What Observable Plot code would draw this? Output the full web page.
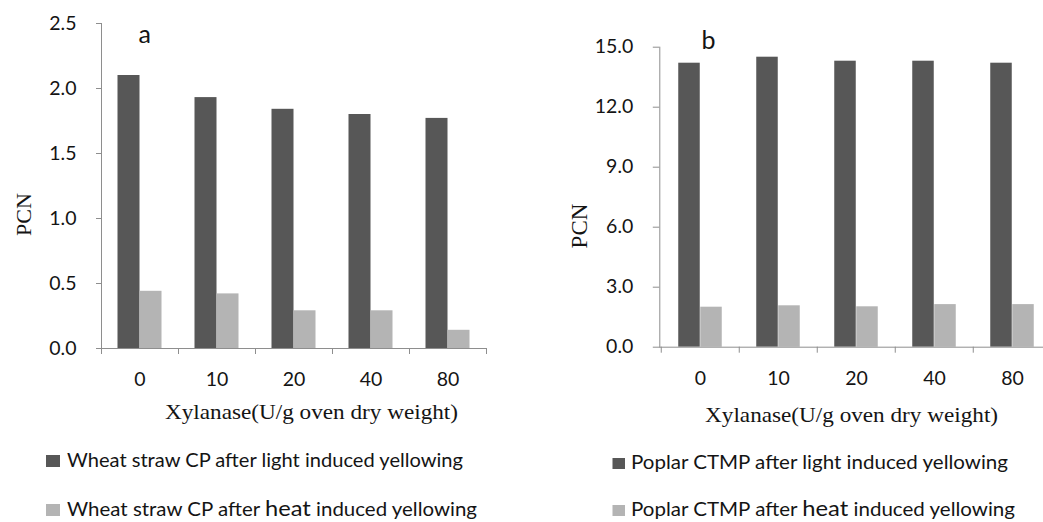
<!DOCTYPE html>
<html><head><meta charset="utf-8">
<script src="https://cdn.jsdelivr.net/npm/d3@7"></script>
<script src="https://cdn.jsdelivr.net/npm/@observablehq/plot@0.6"></script>
<style>
body{margin:0;background:#fff;}
#root{position:relative;width:1043px;height:522px;overflow:hidden;background:#fff;}
#root > svg{position:absolute;top:0;}
</style></head><body><div id="root"></div>
<script>
// ---- data ----
const doses = ["0", "10", "20", "40", "80"];
const wheatLight = [2.10, 1.93, 1.84, 1.80, 1.77];
const wheatHeat = [0.44, 0.42, 0.29, 0.29, 0.14];
const poplarLight = [14.2, 14.5, 14.3, 14.3, 14.2];
const poplarHeat = [2.0, 2.07, 2.02, 2.13, 2.13];
const wheatTicks = [0, 0.5, 1.0, 1.5, 2.0, 2.5];
const poplarTicks = [0, 3, 6, 9, 12, 15];
const xLabel = "Xylanase(U/g oven dry weight)";
const yLabel = "PCN";
const wheatLegend = [["Wheat straw CP after ", "light", " induced yellowing"], ["Wheat straw CP after ", "heat", " induced yellowing"]];
const poplarLegend = [["Poplar CTMP after ", "light", " induced yellowing"], ["Poplar CTMP after ", "heat", " induced yellowing"]];

const DARK = "#575757", LIGHT = "#b4b4b4", AXIS = "#8e8e8e", INK = "#141414";
const SANS = "Lato, 'Open Sans', sans-serif";
const SERIF = "'Liberation Serif', 'Times New Roman', serif";

function makePanel(cfg) {
  const rowsL = doses.map((d, i) => ({dose: d, value: cfg.light[i]}));
  const rowsH = doses.map((d, i) => ({dose: d, value: cfg.heat[i]}));
  const half = cfg.band / 2, bw = 22;
  return Plot.plot({
    width: cfg.width, height: cfg.height,
    marginLeft: cfg.ml, marginRight: cfg.mr, marginTop: cfg.mt, marginBottom: cfg.mb,
    style: {background: "transparent", fontFamily: SANS, color: INK},
    x: {type: "band", domain: doses, padding: 0},
    y: {domain: [0, cfg.yMax]},
    marks: [
      Plot.barY(rowsL, {x: "dose", y: "value", fill: DARK, insetLeft: half - bw, insetRight: half}),
      Plot.barY(rowsH, {x: "dose", y: "value", fill: LIGHT, insetLeft: half, insetRight: half - bw}),
      Plot.frame({anchor: "left", stroke: AXIS}),
      Plot.ruleY([0], {stroke: AXIS}),
      Plot.ruleX(doses, {x: d => d, y1: 0, y2: 0, dx: -half, insetTop: 6, insetBottom: 0, stroke: AXIS}),
      Plot.ruleX([doses[doses.length - 1]], {x: d => d, y1: 0, y2: 0, dx: half, insetTop: 6, insetBottom: 0, stroke: AXIS}),
      Plot.axisY({ticks: cfg.ticks, tickFormat: d3.format(".1f"), tickSize: cfg.tickSize, tickPadding: 20, fontSize: 19.5, stroke: AXIS, fill: INK, label: null}),
      Plot.axisX({tickSize: 0, tickPadding: 24, fontSize: 19.5, fill: INK, label: null}),
      Plot.text([cfg.letter], {frameAnchor: "top-left", text: d => d, dx: cfg.letterDx, dy: cfg.letterDy, fontSize: 25, textAnchor: "start", lineAnchor: "middle", fill: INK}),
      Plot.text([yLabel], {frameAnchor: "left", text: d => d, rotate: -90, dx: cfg.pcnDx, dy: cfg.pcnDy, fontSize: cfg.pcnSize, textAnchor: "middle", lineAnchor: "middle", fontFamily: SERIF, fill: INK}),
      Plot.text([xLabel], {frameAnchor: "bottom", text: d => d, dx: cfg.xlDx, dy: cfg.xlDy, fontSize: 21, textAnchor: "middle", lineAnchor: "middle", fontFamily: SERIF, fill: INK})
    ]
  });
}

// the reference is slightly stretched sideways: fit a text to a given width
function fitWidth(sel, target) {
  sel.each(function () {
    d3.select(this).attr("textLength", target).attr("lengthAdjust", "spacingAndGlyphs");
  });
}

const root = document.getElementById("root");

const left = makePanel({
  light: wheatLight, heat: wheatHeat, ticks: wheatTicks, yMax: 2.5,
  width: 520, height: 440, ml: 101, mr: 34, mt: 23, mb: 92, band: 77, tickSize: 5,
  letter: "a", letterDx: 37, letterDy: 11.6,
  pcnDx: -78, pcnDy: 28.5, pcnSize: 22,
  xlDx: 17.5, xlDy: 63.6
});
left.style.left = "0px";
root.appendChild(left);

const right = makePanel({
  light: poplarLight, heat: poplarHeat, ticks: poplarTicks, yMax: 15,
  width: 560, height: 440, ml: 139.3, mr: 28.2, mt: 46.7, mb: 93.3, band: 78.5, tickSize: 6.5,
  letter: "b", letterDx: 41.7, letterDy: -5.8,
  pcnDx: -80, pcnDy: 28.8, pcnSize: 23,
  xlDx: -4.5, xlDy: 67.9
});
right.style.left = "520px";
root.appendChild(right);

for (const svg of [left, right]) {
  fitWidth(d3.select(svg).selectAll("text").filter(function () { return this.textContent === xLabel; }), 293);
}

// ---- legends ----
const leg = d3.create("svg").attr("width", 1043).attr("height", 522)
  .style("left", "0px").style("pointer-events", "none");
function legendBlock(items, x0, textX, baselines, widths, sw, sh) {
  items.forEach((parts, i) => {
    const b = baselines[i];
    leg.append("rect").attr("x", x0).attr("y", b - sh).attr("width", sw).attr("height", sh)
      .attr("fill", i === 0 ? DARK : LIGHT);
    const t = leg.append("text").attr("x", textX).attr("y", b)
      .attr("font-family", SANS).attr("font-size", 19).attr("fill", INK)
      .attr("textLength", widths[i]).attr("lengthAdjust", "spacingAndGlyphs");
    t.append("tspan").text(parts[0]);
    t.append("tspan").attr("font-size", parts[1] === "heat" ? 22 : 19).text(parts[1]);
    t.append("tspan").text(parts[2]);
  });
}
legendBlock(wheatLegend, 46, 67, [467, 516], [396, 410], 14, 12);
legendBlock(poplarLegend, 612.5, 631, [469, 516], [377, 384], 12.5, 11);
root.appendChild(leg.node());
</script></body></html>
